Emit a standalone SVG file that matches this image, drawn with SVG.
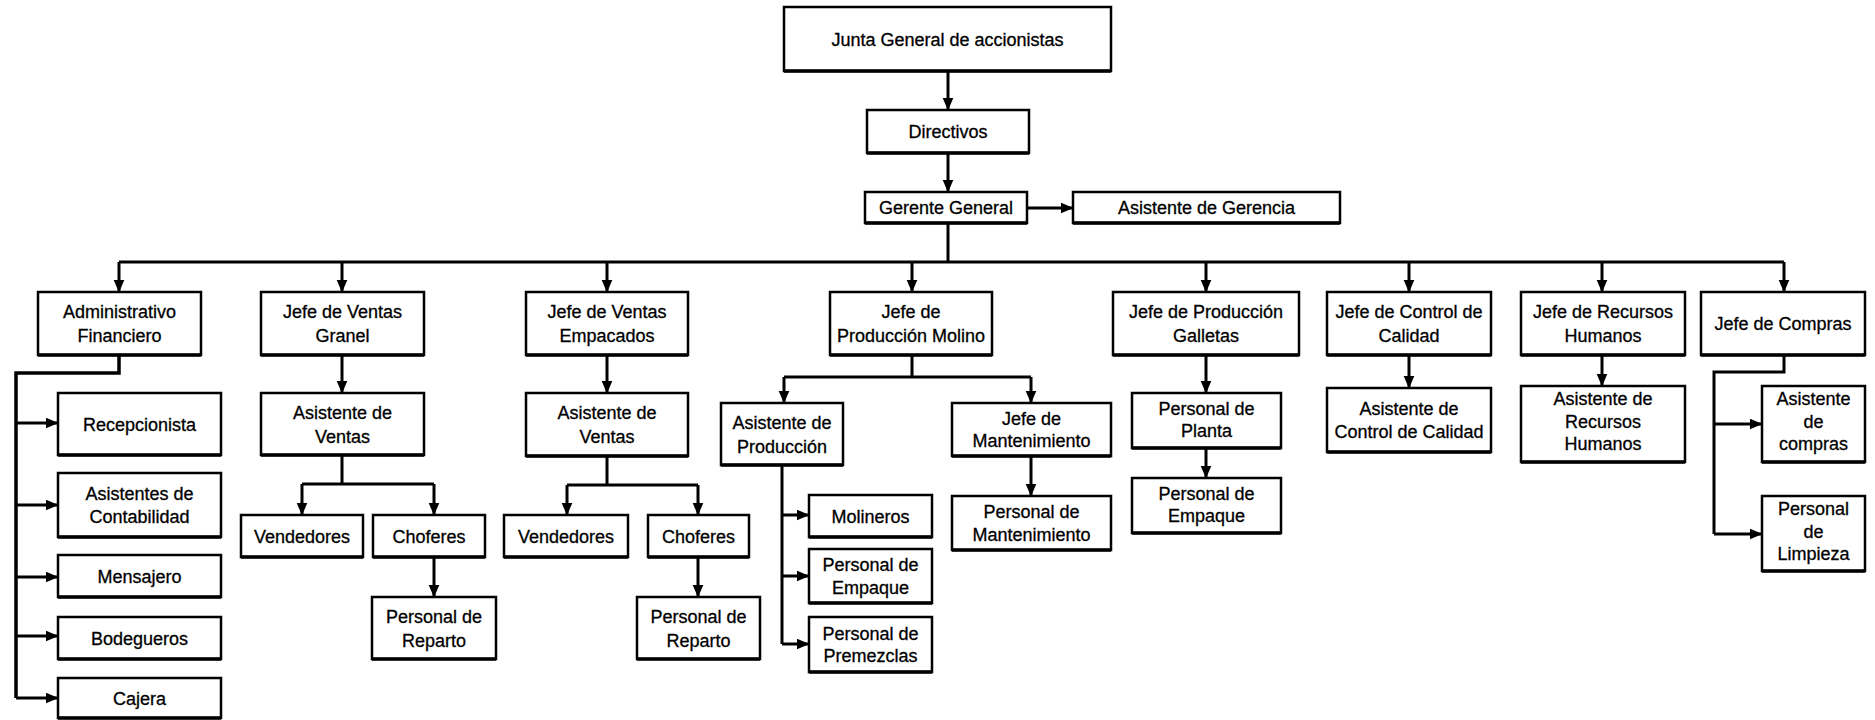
<svg xmlns="http://www.w3.org/2000/svg" width="1875" height="720" viewBox="0 0 1875 720">
<style>
.n rect{fill:#fff;stroke:#000;stroke-width:2.5}
.n line{stroke:#000;stroke-width:3.5}
.n text{font-family:"Liberation Sans",Arial,sans-serif;font-size:18px;fill:#000;stroke:#000;stroke-width:0.3;text-anchor:middle}
.c path{fill:none;stroke:#000;stroke-width:3}
.c .a{marker-end:url(#ah)}
</style>
<defs>
<marker id="ah" markerUnits="userSpaceOnUse" markerWidth="14" markerHeight="12" refX="12.5" refY="5.5" orient="auto">
<path d="M0,0 L13,5.5 L0,11 z" fill="#000"/>
</marker>
</defs>
<rect width="1875" height="720" fill="#fff"/>
<g id="connectors" class="c">
<path class="a" d="M948 71 V110"/>
<path class="a" d="M948 153 V192"/>
<path class="a" d="M1027 208 H1073"/>
<path d="M948 223 V262 M119 262 H1784"/>
<path class="a" d="M119 262 V292"/>
<path class="a" d="M342 262 V292"/>
<path class="a" d="M607 262 V292"/>
<path class="a" d="M912 262 V292"/>
<path class="a" d="M1206 262 V292"/>
<path class="a" d="M1409 262 V292"/>
<path class="a" d="M1602 262 V292"/>
<path class="a" d="M1784 262 V292"/>
<path d="M119 355 V373 H16 V698" style="stroke-width:3.5"/>
<path class="a" d="M16 423 H58"/>
<path class="a" d="M16 505 H58"/>
<path class="a" d="M16 577 H58"/>
<path class="a" d="M16 636 H58"/>
<path class="a" d="M16 698 H58"/>
<path class="a" d="M342 355 V393"/>
<path d="M342 455 V484 M302 484 H434"/>
<path class="a" d="M302 484 V515"/>
<path class="a" d="M434 484 V515"/>
<path class="a" d="M434 557 V597"/>
<path class="a" d="M607 355 V393"/>
<path d="M607 456 V485 M567 485 H698"/>
<path class="a" d="M567 485 V515"/>
<path class="a" d="M698 485 V515"/>
<path class="a" d="M698 557 V597"/>
<path d="M912 355 V377 M784 377 H1031"/>
<path class="a" d="M784 377 V403"/>
<path class="a" d="M1031 377 V403"/>
<path d="M782 465 V644"/>
<path class="a" d="M782 515 H809"/>
<path class="a" d="M782 576 H809"/>
<path class="a" d="M782 644 H809"/>
<path class="a" d="M1031 456 V496"/>
<path class="a" d="M1206 355 V393"/>
<path class="a" d="M1206 448 V478"/>
<path class="a" d="M1409 355 V388"/>
<path class="a" d="M1602 355 V386"/>
<path d="M1784 355 V372 H1714 V534"/>
<path class="a" d="M1714 424 H1762"/>
<path class="a" d="M1714 534 H1762"/>
</g>
<g id="n-junta" class="n"><rect x="784" y="7" width="327" height="64"/><line x1="784" y1="71" x2="1111" y2="71"/><text x="947.5" y="45.5">Junta General de accionistas</text></g>
<g id="n-directivos" class="n"><rect x="867" y="110" width="162" height="43"/><line x1="867" y1="153" x2="1029" y2="153"/><text x="948" y="138">Directivos</text></g>
<g id="n-gerente" class="n"><rect x="865" y="192" width="162" height="31"/><line x1="865" y1="223" x2="1027" y2="223"/><text x="946" y="214">Gerente General</text></g>
<g id="n-asistger" class="n"><rect x="1073" y="192" width="267" height="31"/><line x1="1073" y1="223" x2="1340" y2="223"/><text x="1206.5" y="214">Asistente de Gerencia</text></g>
<g id="n-admin" class="n"><rect x="38" y="292" width="163" height="63"/><line x1="38" y1="355" x2="201" y2="355"/><text x="119.5" y="318">Administrativo</text><text x="119.5" y="341.5">Financiero</text></g>
<g id="n-granel" class="n"><rect x="261" y="292" width="163" height="63"/><line x1="261" y1="355" x2="424" y2="355"/><text x="342.5" y="318">Jefe de Ventas</text><text x="342.5" y="341.5">Granel</text></g>
<g id="n-empacados" class="n"><rect x="526" y="292" width="162" height="63"/><line x1="526" y1="355" x2="688" y2="355"/><text x="607" y="318">Jefe de Ventas</text><text x="607" y="341.5">Empacados</text></g>
<g id="n-molino" class="n"><rect x="830" y="292" width="162" height="63"/><line x1="830" y1="355" x2="992" y2="355"/><text x="911" y="318">Jefe de</text><text x="911" y="341.5">Producción Molino</text></g>
<g id="n-galletas" class="n"><rect x="1113" y="292" width="186" height="63"/><line x1="1113" y1="355" x2="1299" y2="355"/><text x="1206" y="318">Jefe de Producción</text><text x="1206" y="341.5">Galletas</text></g>
<g id="n-control" class="n"><rect x="1327" y="292" width="164" height="63"/><line x1="1327" y1="355" x2="1491" y2="355"/><text x="1409" y="318">Jefe de Control de</text><text x="1409" y="341.5">Calidad</text></g>
<g id="n-rrhh" class="n"><rect x="1521" y="292" width="164" height="63"/><line x1="1521" y1="355" x2="1685" y2="355"/><text x="1603" y="318">Jefe de Recursos</text><text x="1603" y="341.5">Humanos</text></g>
<g id="n-compras" class="n"><rect x="1701" y="292" width="164" height="63"/><line x1="1701" y1="355" x2="1865" y2="355"/><text x="1783" y="330">Jefe de Compras</text></g>
<g id="n-recep" class="n"><rect x="58" y="393" width="163" height="62"/><line x1="58" y1="455" x2="221" y2="455"/><text x="139.5" y="430.5">Recepcionista</text></g>
<g id="n-contab" class="n"><rect x="58" y="473" width="163" height="64"/><line x1="58" y1="537" x2="221" y2="537"/><text x="139.5" y="499.5">Asistentes de</text><text x="139.5" y="523">Contabilidad</text></g>
<g id="n-mensajero" class="n"><rect x="58" y="555" width="163" height="42"/><line x1="58" y1="597" x2="221" y2="597"/><text x="139.5" y="582.5">Mensajero</text></g>
<g id="n-bodegueros" class="n"><rect x="58" y="617" width="163" height="42"/><line x1="58" y1="659" x2="221" y2="659"/><text x="139.5" y="644.5">Bodegueros</text></g>
<g id="n-cajera" class="n"><rect x="58" y="678" width="163" height="40"/><line x1="58" y1="718" x2="221" y2="718"/><text x="139.5" y="704.5">Cajera</text></g>
<g id="n-asistventasg" class="n"><rect x="261" y="393" width="163" height="62"/><line x1="261" y1="455" x2="424" y2="455"/><text x="342.5" y="419">Asistente de</text><text x="342.5" y="442.5">Ventas</text></g>
<g id="n-vendg" class="n"><rect x="241" y="515" width="122" height="42"/><line x1="241" y1="557" x2="363" y2="557"/><text x="302" y="542.5">Vendedores</text></g>
<g id="n-chofg" class="n"><rect x="373" y="515" width="112" height="42"/><line x1="373" y1="557" x2="485" y2="557"/><text x="429" y="542.5">Choferes</text></g>
<g id="n-repartog" class="n"><rect x="372" y="597" width="124" height="62"/><line x1="372" y1="659" x2="496" y2="659"/><text x="434" y="623">Personal de</text><text x="434" y="646.5">Reparto</text></g>
<g id="n-asistventase" class="n"><rect x="526" y="393" width="162" height="63"/><line x1="526" y1="456" x2="688" y2="456"/><text x="607" y="419">Asistente de</text><text x="607" y="442.5">Ventas</text></g>
<g id="n-vende" class="n"><rect x="504" y="515" width="124" height="42"/><line x1="504" y1="557" x2="628" y2="557"/><text x="566" y="542.5">Vendedores</text></g>
<g id="n-chofe" class="n"><rect x="648" y="515" width="101" height="42"/><line x1="648" y1="557" x2="749" y2="557"/><text x="698.5" y="542.5">Choferes</text></g>
<g id="n-repartoe" class="n"><rect x="637" y="597" width="123" height="62"/><line x1="637" y1="659" x2="760" y2="659"/><text x="698.5" y="623">Personal de</text><text x="698.5" y="646.5">Reparto</text></g>
<g id="n-asistprod" class="n"><rect x="721" y="403" width="122" height="62"/><line x1="721" y1="465" x2="843" y2="465"/><text x="782" y="429">Asistente de</text><text x="782" y="452.5">Producción</text></g>
<g id="n-molineros" class="n"><rect x="809" y="495" width="123" height="42"/><line x1="809" y1="537" x2="932" y2="537"/><text x="870.5" y="522.5">Molineros</text></g>
<g id="n-empaquem" class="n"><rect x="809" y="549" width="123" height="54"/><line x1="809" y1="603" x2="932" y2="603"/><text x="870.5" y="571">Personal de</text><text x="870.5" y="593.5">Empaque</text></g>
<g id="n-premezclas" class="n"><rect x="809" y="617" width="123" height="55"/><line x1="809" y1="672" x2="932" y2="672"/><text x="870.5" y="639.5">Personal de</text><text x="870.5" y="662">Premezclas</text></g>
<g id="n-jefemant" class="n"><rect x="952" y="403" width="159" height="53"/><line x1="952" y1="456" x2="1111" y2="456"/><text x="1031.5" y="424.5">Jefe de</text><text x="1031.5" y="447">Mantenimiento</text></g>
<g id="n-persmant" class="n"><rect x="952" y="496" width="159" height="54"/><line x1="952" y1="550" x2="1111" y2="550"/><text x="1031.5" y="518">Personal de</text><text x="1031.5" y="540.5">Mantenimiento</text></g>
<g id="n-planta" class="n"><rect x="1132" y="393" width="149" height="55"/><line x1="1132" y1="448" x2="1281" y2="448"/><text x="1206.5" y="414.5">Personal de</text><text x="1206.5" y="437">Planta</text></g>
<g id="n-empaqueg" class="n"><rect x="1132" y="478" width="149" height="55"/><line x1="1132" y1="533" x2="1281" y2="533"/><text x="1206.5" y="499.5">Personal de</text><text x="1206.5" y="522">Empaque</text></g>
<g id="n-asistcc" class="n"><rect x="1327" y="388" width="164" height="64"/><line x1="1327" y1="452" x2="1491" y2="452"/><text x="1409" y="414.5">Asistente de</text><text x="1409" y="438">Control de Calidad</text></g>
<g id="n-asistrrhh" class="n"><rect x="1521" y="386" width="164" height="76"/><line x1="1521" y1="462" x2="1685" y2="462"/><text x="1603" y="405">Asistente de</text><text x="1603" y="427.5">Recursos</text><text x="1603" y="450">Humanos</text></g>
<g id="n-asistcompras" class="n"><rect x="1762" y="386" width="103" height="76"/><line x1="1762" y1="462" x2="1865" y2="462"/><text x="1813.5" y="405">Asistente</text><text x="1813.5" y="427.5">de</text><text x="1813.5" y="450">compras</text></g>
<g id="n-limpieza" class="n"><rect x="1762" y="496" width="103" height="75"/><line x1="1762" y1="571" x2="1865" y2="571"/><text x="1813.5" y="515">Personal</text><text x="1813.5" y="537.5">de</text><text x="1813.5" y="560">Limpieza</text></g>
</svg>
